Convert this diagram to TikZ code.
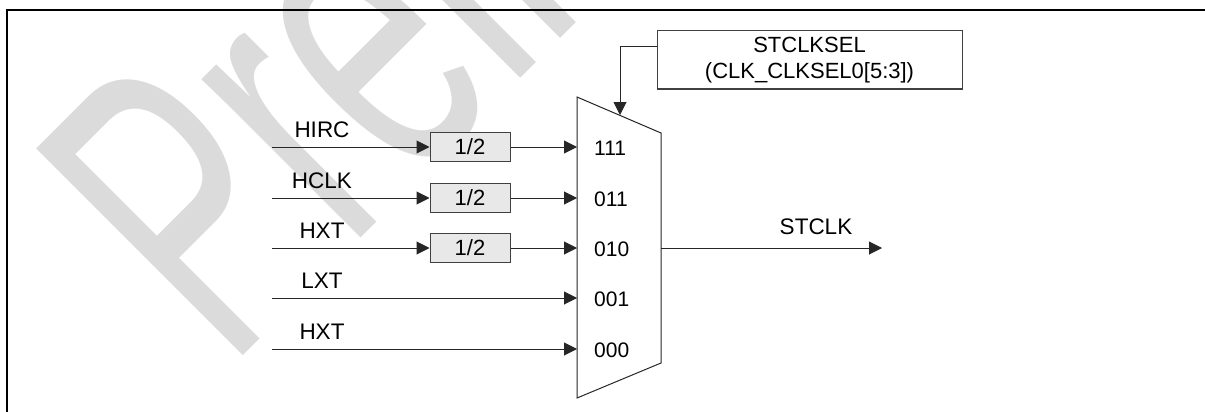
\documentclass[tikz,border=0pt]{standalone}
\usepackage{fontspec}
\setmainfont{Liberation Sans}
\usetikzlibrary{arrows.meta,calc}
\tikzset{
  ln/.style={line width=1pt, draw=black!85},
  arr/.style={ln, -{Triangle[length=13pt,width=13pt]}},
  divbox/.style={draw=black!75, line width=1pt, fill=black!9, minimum width=80pt, minimum height=29pt, inner sep=0pt, font=\fontsize{22}{26}\selectfont},
  lbl/.style={font=\fontsize{22.5}{26}\selectfont, inner sep=0pt},
  sellbl/.style={font=\fontsize{21}{24}\selectfont, inner sep=0pt, anchor=west},
  selbox/.style={draw=black!75, line width=1pt, minimum width=305pt, minimum height=58pt, align=center, inner sep=0pt, font=\fontsize{22}{26}\selectfont},
  wmark/.style={text=black!14, font=\fontsize{425}{425}\selectfont, rotate=45, anchor=base west, inner sep=0pt},
}
\begin{document}
\begin{tikzpicture}[x=1pt,y=-1pt]
\useasboundingbox (0,0) rectangle (1205,412);
\begin{scope}
\clip (0,0) rectangle (1205,412);
\node[wmark] (wm) at (228,371) {\scalebox{0.6}[1]{Preliminary}};
\draw[line width=2.8pt] (7,430) -- (7,10) -- (1220,10);
\end{scope}
% selector box
\node[selbox] (sel) at (809.5,60) {STCLKSEL\\(CLK\_CLKSEL0[5:3])};
% mux
\coordinate (mtl) at (577,97);
\coordinate (mtr) at (661,133);
\coordinate (mbr) at (661,363);
\coordinate (mbl) at (577,398);
\draw[ln] (mtl) -- (mtr) -- (mbr) -- (mbl) -- cycle;
\coordinate (msel) at (620,115);
\draw[arr] (sel.west |- 0,47) -| (msel);
% inputs
\foreach \n/\y/\t/\s in {1/147/HIRC/111,2/198/HCLK/011,3/248/HXT/010,4/298/LXT/001,5/349/HXT/000}{
  \coordinate (src\n) at (272,\y);
  \coordinate (min\n) at (577,\y);
  \node[lbl] (lab\n) at (322,\y-17) {\t};
  \node[sellbl] (sl\n) at (594,\y+1) {\s};
}
\foreach \n in {1,2,3}{
  \node[divbox] (div\n) at ($(src\n)+(198,0)$) {1/2};
  \draw[arr] (src\n) -- (div\n.west);
  \draw[arr] (div\n.east) -- (min\n);
}
\foreach \n in {4,5}{
  \draw[arr] (src\n) -- (min\n);
}
% output
\coordinate (mout) at (661,248);
\coordinate (outend) at (882,248);
\draw[arr] (mout) -- (outend);
\node[lbl] (outlab) at (816,227) {STCLK};
\end{tikzpicture}
\end{document}
